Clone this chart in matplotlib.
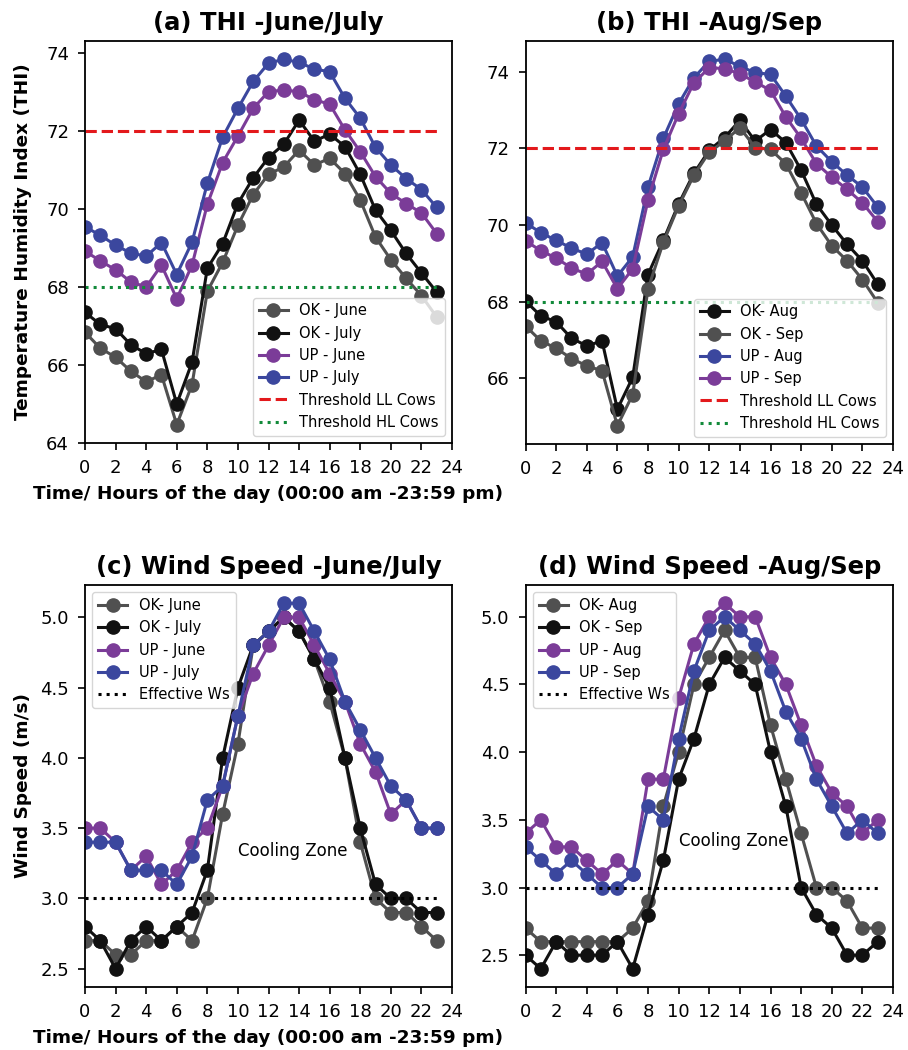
import matplotlib
matplotlib.use("Agg")
import matplotlib.pyplot as plt

hours = list(range(24))

# THI data
thi_ok_june = [66.84, 66.43, 66.20, 65.84, 65.57, 65.75, 64.47, 65.50, 67.89, 68.63, 69.58, 70.37,
               70.89, 71.08, 71.51, 71.13, 71.30, 70.91, 70.23, 69.28, 68.70, 68.22, 67.78, 67.23]
thi_ok_july = [67.35, 67.04, 66.93, 66.52, 66.29, 66.40, 65.00, 66.07, 68.48, 69.11, 70.14, 70.80,
               71.32, 71.66, 72.28, 71.74, 71.92, 71.60, 70.89, 69.97, 69.45, 68.86, 68.36, 67.87]
thi_up_june = [68.92, 68.67, 68.44, 68.13, 68.00, 68.56, 67.70, 68.56, 70.12, 71.19, 71.87, 72.58,
               73.01, 73.05, 73.01, 72.80, 72.69, 72.03, 71.47, 70.83, 70.40, 70.14, 69.90, 69.37]
thi_up_july = [69.54, 69.33, 69.07, 68.87, 68.79, 69.14, 68.32, 69.15, 70.66, 71.84, 72.58, 73.27,
               73.74, 73.84, 73.76, 73.59, 73.52, 72.84, 72.33, 71.58, 71.13, 70.78, 70.50, 70.04]

thi_ok_aug = [68.02, 67.63, 67.48, 67.05, 66.85, 66.98, 65.20, 66.03, 68.71, 69.60, 70.55, 71.35,
              71.95, 72.28, 72.73, 72.19, 72.49, 72.15, 71.43, 70.54, 70.00, 69.50, 69.07, 68.46]
thi_ok_sep = [67.37, 66.98, 66.79, 66.52, 66.33, 66.20, 64.77, 65.58, 68.33, 69.55, 70.50, 71.30,
              71.90, 72.19, 72.54, 72.02, 71.97, 71.60, 70.84, 70.04, 69.46, 69.07, 68.58, 67.98]
thi_up_aug = [70.06, 69.80, 69.60, 69.40, 69.24, 69.54, 68.67, 69.17, 70.99, 72.26, 73.16, 73.84,
              74.27, 74.32, 74.14, 73.97, 73.93, 73.36, 72.76, 72.06, 71.65, 71.30, 70.99, 70.47]
thi_up_sep = [69.59, 69.33, 69.14, 68.88, 68.72, 69.05, 68.34, 68.86, 70.65, 71.97, 72.90, 73.71,
              74.10, 74.08, 73.94, 73.73, 73.51, 72.82, 72.26, 71.60, 71.25, 70.93, 70.58, 70.09]

thr_ll = [72.0] * 24
thr_hl = [68.0] * 24

# Wind speed data
ws_ok_june = [2.7, 2.7, 2.6, 2.6, 2.7, 2.7, 2.8, 2.7, 3.0, 3.6, 4.1, 4.8,
              4.9, 5.0, 4.9, 4.7, 4.4, 4.0, 3.4, 3.0, 2.9, 2.9, 2.8, 2.7]
ws_ok_july = [2.8, 2.7, 2.5, 2.7, 2.8, 2.7, 2.8, 2.9, 3.2, 4.0, 4.5, 4.8,
              4.9, 5.0, 4.9, 4.7, 4.5, 4.0, 3.5, 3.1, 3.0, 3.0, 2.9, 2.9]
ws_up_june = [3.5, 3.5, 3.4, 3.2, 3.3, 3.1, 3.2, 3.4, 3.5, 3.8, 4.3, 4.6,
              4.8, 5.0, 5.0, 4.8, 4.6, 4.4, 4.1, 3.9, 3.6, 3.7, 3.5, 3.5]
ws_up_july = [3.4, 3.4, 3.4, 3.2, 3.2, 3.2, 3.1, 3.3, 3.7, 3.8, 4.3, 4.8,
              4.9, 5.1, 5.1, 4.9, 4.7, 4.4, 4.2, 4.0, 3.8, 3.7, 3.5, 3.5]

ws_ok_aug = [2.7, 2.6, 2.6, 2.6, 2.6, 2.6, 2.6, 2.7, 2.9, 3.6, 4.0, 4.5,
             4.7, 4.9, 4.7, 4.7, 4.2, 3.8, 3.4, 3.0, 3.0, 2.9, 2.7, 2.7]
ws_ok_sep = [2.5, 2.4, 2.6, 2.5, 2.5, 2.5, 2.6, 2.4, 2.8, 3.2, 3.8, 4.1,
             4.5, 4.7, 4.6, 4.5, 4.0, 3.6, 3.0, 2.8, 2.7, 2.5, 2.5, 2.6]
ws_up_aug = [3.4, 3.5, 3.3, 3.3, 3.2, 3.1, 3.2, 3.1, 3.8, 3.8, 4.4, 4.8,
             5.0, 5.1, 5.0, 5.0, 4.7, 4.5, 4.2, 3.9, 3.7, 3.6, 3.4, 3.5]
ws_up_sep = [3.3, 3.2, 3.1, 3.2, 3.1, 3.0, 3.0, 3.1, 3.6, 3.5, 4.1, 4.6,
             4.9, 5.0, 4.9, 4.8, 4.6, 4.3, 4.1, 3.8, 3.6, 3.4, 3.5, 3.4]

effective_ws = [3.0] * 24

xticks = list(range(0, 25, 2))

GRAY = '#505050'
BLACK = '#111111'
PURPLE = '#7b3c98'
BLUE = '#3b479e'
RED = '#e3191c'
GREEN = '#128a3a'

LW = 2.2
MS = 9.5

fig = plt.figure(figsize=(9.08, 10.5), dpi=100)
W, H = 908.0, 1050.0

def ax_at(l, t, r, b):
    return fig.add_axes([l / W, 1 - b / H, (r - l) / W, (b - t) / H])

ax_a = ax_at(85, 41, 452, 443)
ax_b = ax_at(525.5, 41, 893, 444)
ax_c = ax_at(85, 585, 452, 987)
ax_d = ax_at(525.5, 585, 893, 987)

def series(ax, y, color, label):
    ax.plot(hours, y, '-o', color=color, lw=LW, ms=MS, label=label)

def style(ax):
    ax.set_xlim(0, 24)
    ax.set_xticks(xticks)
    ax.tick_params(labelsize=13, length=5, width=1.2, pad=6.5)
    for s in ax.spines.values():
        s.set_linewidth(1.3)

TITLE_FS = 17.5
LABEL_FS = 13.3
LEG_FS = 10.5
XLABEL = 'Time/ Hours of the day (00:00 am -23:59 pm)'

# (a)
series(ax_a, thi_ok_june, GRAY, 'OK - June')
series(ax_a, thi_ok_july, BLACK, 'OK - July')
series(ax_a, thi_up_june, PURPLE, 'UP - June')
series(ax_a, thi_up_july, BLUE, 'UP - July')
ax_a.plot(hours, thr_ll, '--', color=RED, lw=2.2, label='Threshold LL Cows')
ax_a.plot(hours, thr_hl, ':', color=GREEN, lw=2.2, label='Threshold HL Cows')
style(ax_a)
ax_a.set_ylim(bottom=64.0)
ax_a.set_title('(a) THI -June/July', fontsize=TITLE_FS, fontweight='bold', pad=8)
ax_a.set_ylabel('Temperature Humidity Index (THI)', fontsize=LABEL_FS, fontweight='bold', labelpad=10)
ax_a.set_xlabel(XLABEL, fontsize=LABEL_FS, fontweight='bold', labelpad=6)
ax_a.legend(loc='lower right', fontsize=LEG_FS)

# (b)
series(ax_b, thi_ok_aug, BLACK, 'OK- Aug')
series(ax_b, thi_ok_sep, GRAY, 'OK - Sep')
series(ax_b, thi_up_aug, BLUE, 'UP - Aug')
series(ax_b, thi_up_sep, PURPLE, 'UP - Sep')
ax_b.plot(hours, thr_ll, '--', color=RED, lw=2.2, label='Threshold LL Cows')
ax_b.plot(hours, thr_hl, ':', color=GREEN, lw=2.2, label='Threshold HL Cows')
style(ax_b)
ax_b.set_title('(b) THI -Aug/Sep', fontsize=TITLE_FS, fontweight='bold', pad=8)
ax_b.legend(loc='lower right', fontsize=LEG_FS)

# (c)
series(ax_c, ws_ok_june, GRAY, 'OK- June')
series(ax_c, ws_ok_july, BLACK, 'OK - July')
series(ax_c, ws_up_june, PURPLE, 'UP - June')
series(ax_c, ws_up_july, BLUE, 'UP - July')
ax_c.plot(hours, effective_ws, ':', color='black', lw=2.2, label='Effective Ws')
ax_c.text(10, 3.34, 'Cooling Zone', fontsize=12, va='center', ha='left')
style(ax_c)
ax_c.set_title('(c) Wind Speed -June/July', fontsize=TITLE_FS, fontweight='bold', pad=8)
ax_c.set_ylabel('Wind Speed (m/s)', fontsize=LABEL_FS, fontweight='bold', labelpad=6)
ax_c.set_xlabel(XLABEL, fontsize=LABEL_FS, fontweight='bold', labelpad=6)
ax_c.legend(loc='upper left', fontsize=LEG_FS)

# (d)
series(ax_d, ws_ok_aug, GRAY, 'OK- Aug')
series(ax_d, ws_ok_sep, BLACK, 'OK - Sep')
series(ax_d, ws_up_aug, PURPLE, 'UP - Aug')
series(ax_d, ws_up_sep, BLUE, 'UP - Sep')
ax_d.plot(hours, effective_ws, ':', color='black', lw=2.2, label='Effective Ws')
ax_d.text(10, 3.34, 'Cooling Zone', fontsize=12, va='center', ha='left')
style(ax_d)
ax_d.set_title('(d) Wind Speed -Aug/Sep', fontsize=TITLE_FS, fontweight='bold', pad=8)
ax_d.legend(loc='upper left', fontsize=LEG_FS)

fig.savefig('out.png', dpi=100)
